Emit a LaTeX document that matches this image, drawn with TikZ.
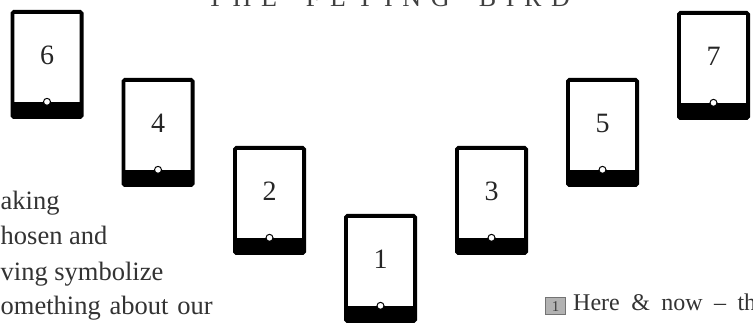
\documentclass[tikz,border=0pt]{standalone}
\usepackage{fontspec}
\setmainfont{Liberation Serif}
\usetikzlibrary{calc}
\tikzset{
  card/.style={draw=black, line width=3.8pt, rounded corners=1.5pt, minimum width=69.2pt, minimum height=105.2pt, outer sep=0pt, inner sep=0pt, fill=white},
  cardnum/.style={font=\fontsize{28}{30}\selectfont, text=black!85, inner sep=0pt},
  banddot/.style={circle, draw=black, fill=white, line width=1pt, minimum size=7pt, inner sep=0pt},
  bodytext/.style={font=\fontsize{26.5}{30}\selectfont, text=black!80, inner sep=0pt, anchor=base west},
  titletext/.style={font=\fontsize{26}{30}\selectfont, text=black!75, inner sep=0pt, anchor=base},
  numbox/.style={draw=black!55, fill=black!30, line width=1pt, minimum width=20pt, minimum height=17pt, inner sep=0pt, font=\fontsize{15}{16}\selectfont, text=black!75},
  notetext/.style={font=\fontsize{24}{26}\selectfont, text=black!80, inner sep=0pt, anchor=base west}
}
\begin{document}
\begin{tikzpicture}[x=1pt,y=-1pt]
\useasboundingbox (0,0) rectangle (753,323);
\clip (0,0) rectangle (753,323);
\fill[white] (0,0) rectangle (753,323);

% title (only its lower part is visible)
\node[titletext] (title) at (388.5,7) {\hbox to 363pt{T\hfill H\hfill E\hfill\hfill\hfill F\hfill L\hfill Y\hfill I\hfill N\hfill G\hfill\hfill\hfill B\hfill I\hfill R\hfill D}};

% cards
\foreach \n/\cx/\cy in {6/47/64.5, 4/158/132.5, 2/269.5/200.5, 1/380.5/268.5, 3/491.5/200.5, 5/602.5/132.5, 7/713.5/65.5} {
  \node[card] (c\n) at (\cx,\cy) {};
  \fill[black] (c\n.south west) rectangle ($(c\n.south east)+(0,-15.25)$);
  \node[banddot] (d\n) at ($(c\n.south)+(0,-15.25)$) {};
  \node[cardnum] (n\n) at ($(c\n.center)+(0,-9.5)$) {\n};
}

% left paragraph fragments
\node[bodytext] (l1) at (0.5,210) {aking};
\node[bodytext] (l2) at (0.5,245) {hosen and};
\node[bodytext] (l3) at (0.5,281) {ving symbolize};
\node[bodytext] (l4) at (0.5,315) {\hbox to 212pt{omething\hfill about\hfill our}};

% bottom-right note
\node[numbox] (b1) at (555.5,306.5) {1};
\node[notetext] (t1) at (573,311) {\hbox to 183pt{Here\hfill\&\hfill now\hfill –\hfill th}};
\end{tikzpicture}
\end{document}
